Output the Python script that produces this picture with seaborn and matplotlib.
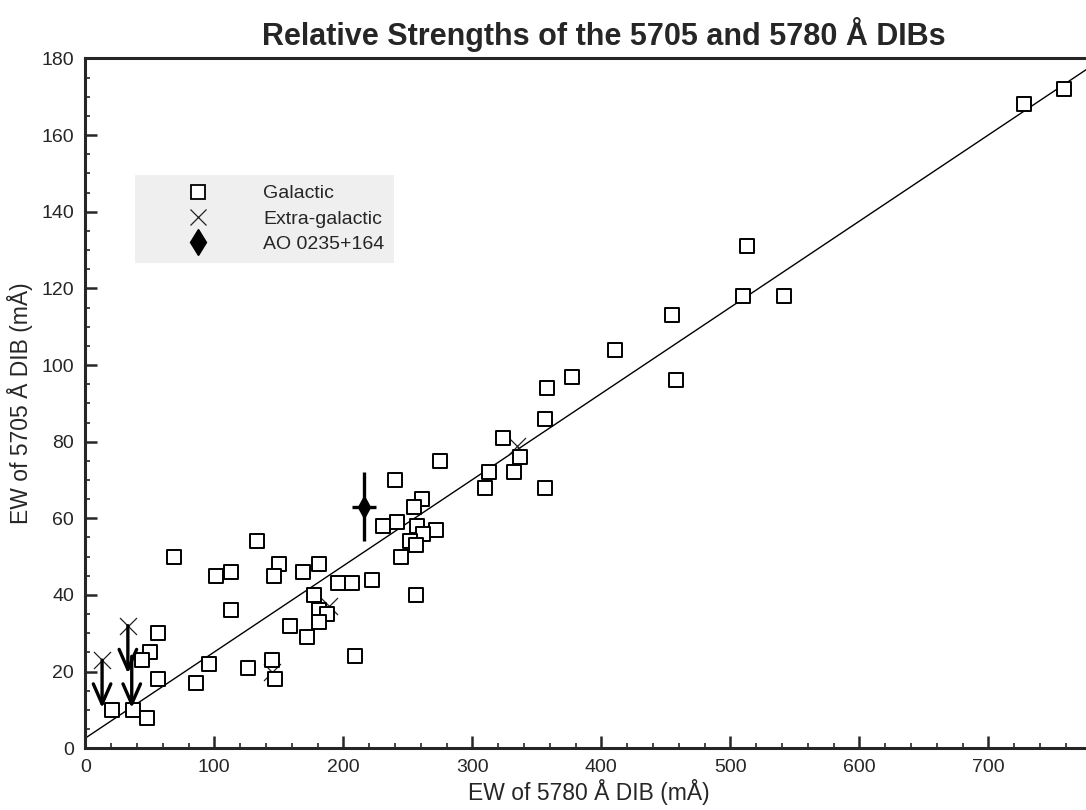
import matplotlib
matplotlib.use("Agg")
import matplotlib.pyplot as plt
from matplotlib.lines import Line2D
from matplotlib.ticker import MultipleLocator
import seaborn as sns

# Galactic sightlines: EW(5780) vs EW(5705), mÅ
galactic_x = [759, 728, 513, 510, 542, 455, 411, 458, 377, 358, 356, 324, 337,
              313, 332, 310, 356, 275, 240, 261, 255, 231, 242, 257, 272, 262,
              252, 256, 245, 256, 222, 196, 207, 181, 169, 150, 146, 133, 101,
              113, 113, 69, 177, 181, 187, 181, 159, 172, 209, 145, 147, 126,
              96, 86, 56, 50, 44, 56, 21, 37, 48]
galactic_y = [172, 168, 131, 118, 118, 113, 104, 96, 97, 94, 86, 81, 76,
              72, 72, 68, 68, 75, 70, 65, 63, 58, 59, 58, 57, 56,
              54, 53, 50, 40, 44, 43, 43, 48, 46, 48, 45, 54, 45,
              46, 36, 50, 40, 36, 35, 33, 32, 29, 24, 23, 18, 21,
              22, 17, 30, 25, 23, 18, 10, 10, 8]

# Extra-galactic sightlines
extragal_x = [13, 33, 145, 189, 335]
extragal_y = [23, 32, 20, 37, 79]

# Upper limits (arrows pointing down)
limit_x = [13, 33, 36]
limit_top = [23, 32, 24]
limit_bottom = [10.5, 19.5, 10.5]

# AO 0235+164 with its uncertainties
ao_x, ao_y = 216, 63
ao_xerr, ao_yerr = 9.5, 9

# Linear relation drawn through the sample
fit_intercept = 2.65
fit_slope = 0.2248

x_ticks = [0, 100, 200, 300, 400, 500, 600, 700]
y_ticks = [0, 20, 40, 60, 80, 100, 120, 140, 160, 180]

sns.set_style("ticks")
plt.rcParams["font.family"] = ["Liberation Sans", "DejaVu Sans"]

W, H = 1086, 810
fig = plt.figure(figsize=(W / 100, H / 100), dpi=100)
x0, x1, ytop, ybot = 85.3, 1091.5, 58.4, 748.3
ax = fig.add_axes([x0 / W, (H - ybot) / H, (x1 - x0) / W, (ybot - ytop) / H])

ax.axline((0, fit_intercept), slope=fit_slope, color="black", lw=1.0, zorder=2)

sns.scatterplot(x=galactic_x, y=galactic_y, marker="s", s=100, color="white",
                edgecolor="black", linewidth=1.4, ax=ax, zorder=4)
sns.scatterplot(x=extragal_x, y=extragal_y, marker="x", s=150, color="#222222",
                linewidth=0.9, ax=ax, zorder=3)

for lx, lt, lb in zip(limit_x, limit_top, limit_bottom):
    ax.annotate("", xy=(lx, lb), xytext=(lx, lt),
                arrowprops=dict(arrowstyle="->,head_length=0.8,head_width=0.35",
                                lw=2.4, color="black", shrinkA=0, shrinkB=0,
                                mutation_scale=18),
                zorder=5)

ax.errorbar(ao_x, ao_y, xerr=ao_xerr, yerr=ao_yerr, fmt="d", color="black",
            markersize=11, elinewidth=2.4, capsize=0, zorder=6)

ax.set_xlim(0, 780)
ax.set_ylim(0, 180)
ax.set_xticks(x_ticks)
ax.set_yticks(y_ticks)
ax.xaxis.set_minor_locator(MultipleLocator(20))
ax.yaxis.set_minor_locator(MultipleLocator(5))
ax.tick_params(which="major", direction="in", length=8.5, width=1.8,
               labelsize=14, pad=8, top=False, right=False)
ax.tick_params(which="minor", direction="in", length=3.7, width=1.2,
               top=False, right=False)
for side in ("left", "bottom", "top"):
    ax.spines[side].set_linewidth(2.2)
ax.spines["right"].set_visible(False)

ax.set_xlabel("EW of 5780 Å DIB (mÅ)", fontsize=16.5, labelpad=2)
ax.set_ylabel("EW of 5705 Å DIB (mÅ)", fontsize=16.5, labelpad=6)

fig.text(604 / W, 1 - 35 / H, "Relative Strengths of the 5705 and 5780 Å DIBs",
         ha="center", va="center", fontsize=22, fontweight="bold")

handles = [
    Line2D([], [], ls="none", marker="s", markersize=10, markerfacecolor="white",
           markeredgecolor="black", markeredgewidth=1.3),
    Line2D([], [], ls="none", marker="x", markersize=12, color="#222222",
           markeredgewidth=0.9),
    Line2D([], [], ls="none", marker="d", markersize=13, color="black"),
]
labels = ["Galactic", "Extra-galactic", "AO 0235+164"]
leg = ax.legend(handles, labels, loc="upper left",
                bbox_to_anchor=((135 - x0) / (x1 - x0), (ybot - 175) / (ybot - ytop)),
                borderaxespad=0, fontsize=14, borderpad=0.5, handlelength=5.5,
                handletextpad=0.6, labelspacing=0.4, fancybox=False,
                frameon=True, framealpha=1)
leg.get_frame().set_facecolor("#efefef")
leg.get_frame().set_edgecolor("none")

fig.savefig("out.png", dpi=100)
